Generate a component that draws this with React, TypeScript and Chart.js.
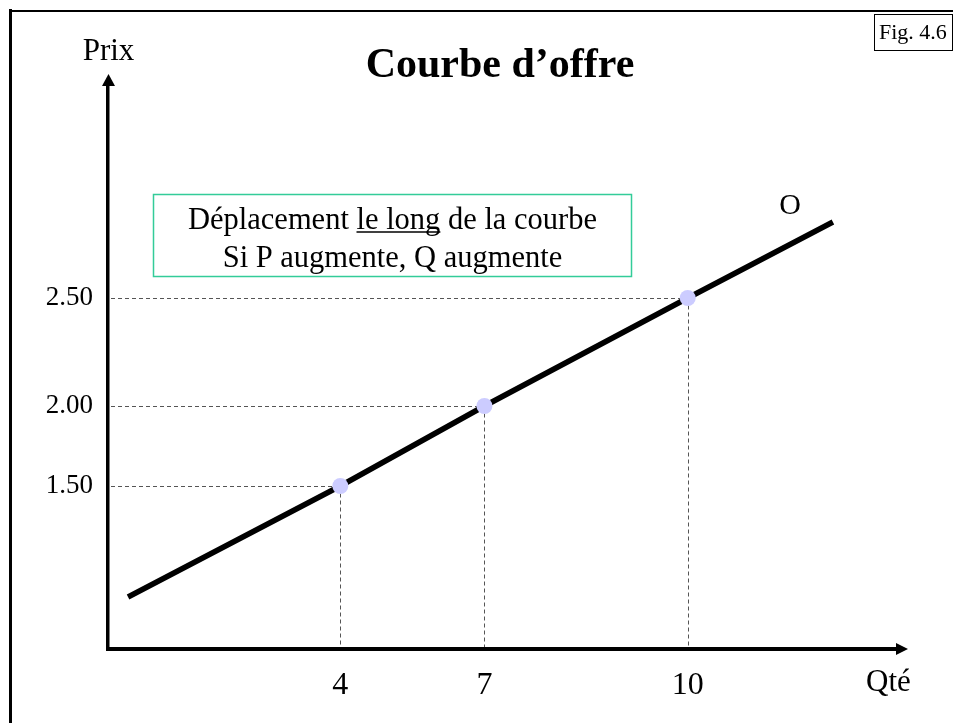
import React, { useEffect, useRef } from 'react';
import { Chart, LinearScale, registerables } from 'chart.js';

// ---- data ----
const quantities = [4, 7, 10];
const prices = [1.5, 2.0, 2.5];
const xTickLabels = ['4', '7', '10'];
const yTickLabels = ['1.50', '2.00', '2.50'];
const supplyQ = [1, 4, 7, 10, 12];
const supplyP = [1.0, 1.5, 2.0, 2.5, 2.83];

const titleText = 'Courbe d’offre';
const yAxisTitle = 'Prix';
const xAxisTitle = 'Qté';
const curveLabel = 'O';
const figLabel = 'Fig. 4.6';
const noteLine1Before = 'Déplacement ';
const noteLine1Under = 'le long';
const noteLine1After = ' de la courbe';
const noteLine2 = 'Si P augmente, Q augmente';

// ---- hand-drawn (non-uniform) axis spacing: [value, fraction of axis] ----
const SCALE_KNOTS: Record<string, number[][]> = {
  x: [[0, 0], [1, 0.0253], [4, 0.2933], [7, 0.4753], [10, 0.732], [12, 0.9153], [13, 1]],
  y: [[0, 0], [1, 0.0917], [1.5, 0.2875], [2, 0.4286], [2.5, 0.619], [2.83, 0.7531], [3.5, 1]],
};

function mapKnots(k: number[][], v: number, a: number, b: number) {
  let i = 0;
  while (i < k.length - 2 && v > k[i + 1][a]) i++;
  const p = k[i], q = k[i + 1];
  return p[b] + ((v - p[a]) * (q[b] - p[b])) / (q[a] - p[a]);
}

class PiecewiseScale extends LinearScale {
  static id = 'piecewise';
  static defaults = LinearScale.defaults;
  getPixelForValue(value: number) {
    if (value === null || value === undefined) return NaN;
    return this.getPixelForDecimal(mapKnots(SCALE_KNOTS[(this as any).id], value, 0, 1));
  }
  getValueForPixel(pixel: number) {
    return mapKnots(SCALE_KNOTS[(this as any).id], this.getDecimalForPixel(pixel), 1, 0);
  }
}

Chart.register(...registerables, PiecewiseScale as any);

const SERIF = "'Liberation Serif', 'Times New Roman', serif";

const decorPlugin = {
  id: 'decor',
  beforeDatasetsDraw(chart: any) {
    const { ctx, chartArea, scales } = chart;
    const x = scales.x, y = scales.y;
    ctx.save();
    ctx.setLineDash([4, 3]);
    ctx.strokeStyle = '#555';
    ctx.lineWidth = 1;
    quantities.forEach((q, i) => {
      const px = Math.round(x.getPixelForValue(q)) + 0.5;
      const py = Math.round(y.getPixelForValue(prices[i])) + 0.5;
      ctx.beginPath();
      ctx.moveTo(chartArea.left + 3, py);
      ctx.lineTo(px, py);
      ctx.stroke();
      ctx.beginPath();
      ctx.moveTo(px, py);
      ctx.lineTo(px, chartArea.bottom - 2);
      ctx.stroke();
    });
    ctx.restore();
  },
  afterDraw(chart: any) {
    const { ctx, chartArea } = chart;
    const { left, right, top, bottom } = chartArea;
    ctx.save();
    // frame
    ctx.strokeStyle = '#000';
    ctx.lineWidth = 3;
    ctx.beginPath();
    ctx.moveTo(10.5, 9);
    ctx.lineTo(10.5, 723);
    ctx.stroke();
    ctx.lineWidth = 2;
    ctx.beginPath();
    ctx.moveTo(9, 11);
    ctx.lineTo(953, 11);
    ctx.stroke();

    // arrows
    ctx.fillStyle = '#000';
    const ax = left + 0.5;
    ctx.beginPath();
    ctx.moveTo(ax, top - 8);
    ctx.lineTo(ax - 6.5, top + 4);
    ctx.lineTo(ax + 6.5, top + 4);
    ctx.closePath();
    ctx.fill();
    const ay = bottom;
    ctx.beginPath();
    ctx.moveTo(right + 8, ay);
    ctx.lineTo(right - 4, ay - 6);
    ctx.lineTo(right - 4, ay + 6);
    ctx.closePath();
    ctx.fill();

    // title
    ctx.fillStyle = '#000';
    ctx.textBaseline = 'alphabetic';
    ctx.textAlign = 'center';
    ctx.font = `bold 42px ${SERIF}`;
    ctx.fillText(titleText, 500, 77);

    // axis titles
    ctx.font = `31px ${SERIF}`;
    ctx.fillText(yAxisTitle, 108.5, 60);
    ctx.textAlign = 'left';
    ctx.fillText(xAxisTitle, 866, 691);

    // curve label
    ctx.textAlign = 'center';
    ctx.font = `30px ${SERIF}`;
    ctx.fillText(curveLabel, 790, 214);

    // Fig box
    ctx.lineWidth = 1;
    ctx.strokeRect(874.5, 14.5, 78, 36);
    ctx.textAlign = 'left';
    ctx.font = `22px ${SERIF}`;
    ctx.fillText(figLabel, 879, 39);

    // note box
    ctx.strokeStyle = 'rgb(51,204,153)';
    ctx.lineWidth = 1.5;
    ctx.strokeRect(153.5, 194.5, 478, 82);
    ctx.font = `30.5px ${SERIF}`;
    const cx = 392.5;
    const full = noteLine1Before + noteLine1Under + noteLine1After;
    const w = ctx.measureText(full).width;
    const x0 = cx - w / 2;
    ctx.textAlign = 'left';
    ctx.fillText(full, x0, 229);
    const ux = x0 + ctx.measureText(noteLine1Before).width;
    const uw = ctx.measureText(noteLine1Under).width;
    ctx.strokeStyle = '#000';
    ctx.lineWidth = 1.5;
    ctx.beginPath();
    ctx.moveTo(ux, 232);
    ctx.lineTo(ux + uw, 232);
    ctx.stroke();
    ctx.textAlign = 'center';
    ctx.fillText(noteLine2, cx, 267);
    ctx.restore();
  },
};

export default function App() {
  const ref = useRef<HTMLCanvasElement | null>(null);
  useEffect(() => {
    if (!ref.current) return;
    const chart = new Chart(ref.current, {
      type: 'scatter',
      data: {
        datasets: [
          {
            label: 'points',
            data: quantities.map((q, i) => ({ x: q, y: prices[i] })),
            showLine: false,
            pointRadius: 8,
            pointHoverRadius: 8,
            backgroundColor: '#ccccff',
            borderWidth: 0,
          },
          {
            label: curveLabel,
            data: supplyQ.map((q, i) => ({ x: q, y: supplyP[i] })),
            showLine: true,
            borderColor: '#000',
            borderWidth: 5.5,
            pointRadius: 0,
            pointHoverRadius: 0,
            tension: 0,
          },
        ],
      },
      options: {
        responsive: false,
        animation: false,
        events: [],
        layout: { padding: { left: 8, right: 53, top: 82, bottom: 0 } },
        plugins: { legend: { display: false }, tooltip: { enabled: false }, title: { display: false } },
        scales: {
          x: {
            type: 'piecewise' as any,
            position: 'bottom',
            min: 0,
            max: 13,
            grid: { display: false, drawTicks: false },
            border: { display: true, color: '#000', width: 4 },
            afterBuildTicks: (scale: any) => {
              scale.ticks = quantities.map((v) => ({ value: v }));
            },
            afterFit: (scale: any) => {
              scale.height = 74;
            },
            ticks: {
              autoSkip: false,
              maxRotation: 0,
              padding: 17,
              color: '#000',
              font: { family: SERIF, size: 32 },
              callback: (_v: any, i: number) => xTickLabels[i],
            },
          },
          y: {
            type: 'piecewise' as any,
            position: 'left',
            min: 0,
            max: 3.5,
            grid: { display: false, drawTicks: false },
            border: { display: true, color: '#000', width: 3.5 },
            afterBuildTicks: (scale: any) => {
              scale.ticks = prices.map((v) => ({ value: v }));
            },
            afterFit: (scale: any) => {
              scale.width = 100;
            },
            ticks: {
              autoSkip: false,
              padding: 15,
              color: '#000',
              font: { family: SERIF, size: 27 },
              callback: (_v: any, i: number) => yTickLabels[i],
            },
          },
        },
      } as any,
      plugins: [decorPlugin],
    });
    return () => chart.destroy();
  }, []);
  return (
    <div style={{ position: 'fixed', left: 0, top: 0, width: 953, height: 723, background: '#fff' }}>
      <canvas ref={ref} width={953} height={723} style={{ display: 'block' }} />
    </div>
  );
}
